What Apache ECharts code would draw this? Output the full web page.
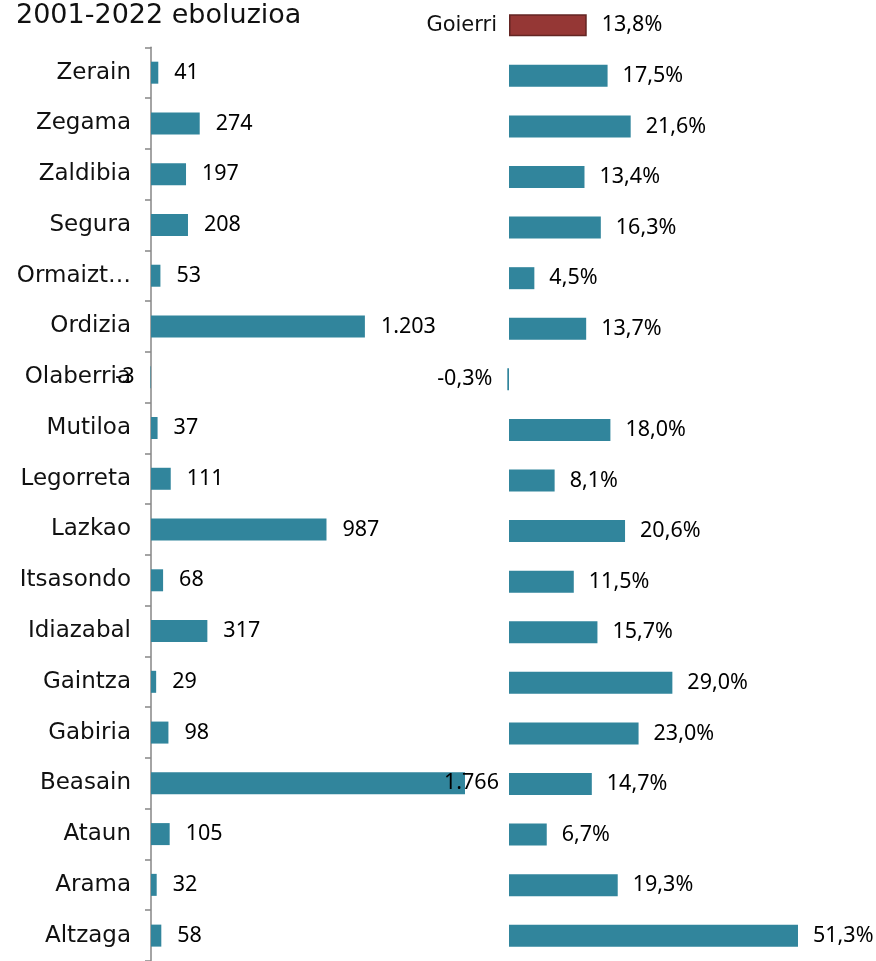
<!DOCTYPE html>
<html>
<head>
<meta charset="utf-8">
<script src="https://cdn.jsdelivr.net/npm/echarts@6/dist/echarts.min.js"></script>
<style>
  html, body { margin: 0; padding: 0; background: #ffffff; }
  #chart { width: 876px; height: 961px; }
</style>
</head>
<body>
<div id="chart"></div>
<script>
// herriak
const herriak = ['Zerain', 'Zegama', 'Zaldibia', 'Segura', 'Ormaizt…', 'Ordizia', 'Olaberria', 'Mutiloa',
  'Legorreta', 'Lazkao', 'Itsasondo', 'Idiazabal', 'Gaintza', 'Gabiria', 'Beasain', 'Ataun', 'Arama', 'Altzaga'];
// biztanle aldaketa (absolutua)
const aldaketa = [41, 274, 197, 208, 53, 1203, -3, 37, 111, 987, 68, 317, 29, 98, 1766, 105, 32, 58];
// eskualdea
const eskualdea = 'Goierri';
const eskualdeaPct = 13.8;
// aldaketa %
const aldaketaPct = [17.5, 21.6, 13.4, 16.3, 4.5, 13.7, -0.3, 18.0, 8.1, 20.6, 11.5, 15.7, 29.0, 23.0, 14.7, 6.7, 19.3, 51.3];

const urdina = '#31859C';
const gorria = '#953735';
const labelFont = 'Noto Sans';
const catFont = 'DejaVu Sans';

const chart = echarts.init(document.getElementById('chart'));

const maxAbs = Math.max(...aldaketa);
const absData = aldaketa.map(v => {
  if (v < 0) return { value: v, label: { position: 'left' } };
  if (v === maxAbs) return { value: v, label: { offset: [-37, 0] } };
  return v;
});

const pctCats = [eskualdea].concat(herriak);
const pctData = [{
  value: eskualdeaPct,
  itemStyle: { color: gorria, borderColor: '#632523', borderWidth: 1.5 }
}].concat(aldaketaPct.map(v => v < 0 ? { value: v, label: { position: 'left' } } : v));

chart.setOption({
  animation: false,
  title: {
    text: '2001-2022 eboluzioa',
    left: 11,
    top: -3,
    textStyle: { fontFamily: catFont, fontSize: 27, fontWeight: 'normal', color: '#111111' }
  },
  grid: [
    { left: 151, top: 47.3, width: 355.6, height: 917 },
    { left: 509, top: -3.6, width: 338, height: 968 }
  ],
  xAxis: [
    { gridIndex: 0, type: 'value', min: 0, max: 2000, show: false },
    { gridIndex: 1, type: 'value', min: 0, max: 60, show: false }
  ],
  yAxis: [
    {
      gridIndex: 0,
      type: 'category',
      inverse: true,
      data: herriak,
      axisLine: { show: true, lineStyle: { color: '#868686', width: 1.5 } },
      axisTick: { show: true, length: 6, lineStyle: { color: '#868686', width: 1.5 } },
      axisLabel: { margin: 20, fontFamily: catFont, fontSize: 23, color: '#111111' }
    },
    {
      gridIndex: 1,
      type: 'category',
      inverse: true,
      data: pctCats,
      axisLine: { show: false },
      axisTick: { show: false },
      axisLabel: {
        margin: 12,
        fontFamily: catFont,
        fontSize: 21,
        color: '#111111',
        formatter: v => (v === eskualdea ? v : '')
      }
    }
  ],
  series: [
    {
      type: 'bar',
      xAxisIndex: 0,
      yAxisIndex: 0,
      barWidth: 22,
      clip: false,
      itemStyle: { color: urdina },
      label: {
        show: true,
        position: 'right',
        distance: 16,
        fontFamily: labelFont,
        fontSize: 21.5,
        color: '#000000',
        formatter: p => String(p.value).replace(/\B(?=(\d{3})+(?!\d))/g, '.')
      },
      data: absData
    },
    {
      type: 'bar',
      xAxisIndex: 1,
      yAxisIndex: 1,
      barWidth: 22,
      clip: false,
      itemStyle: { color: urdina },
      label: {
        show: true,
        position: 'right',
        distance: 15,
        fontFamily: labelFont,
        fontSize: 21.5,
        color: '#000000',
        formatter: p => p.value.toFixed(1).replace('.', ',') + '%'
      },
      data: pctData
    }
  ]
});
</script>
</body>
</html>
